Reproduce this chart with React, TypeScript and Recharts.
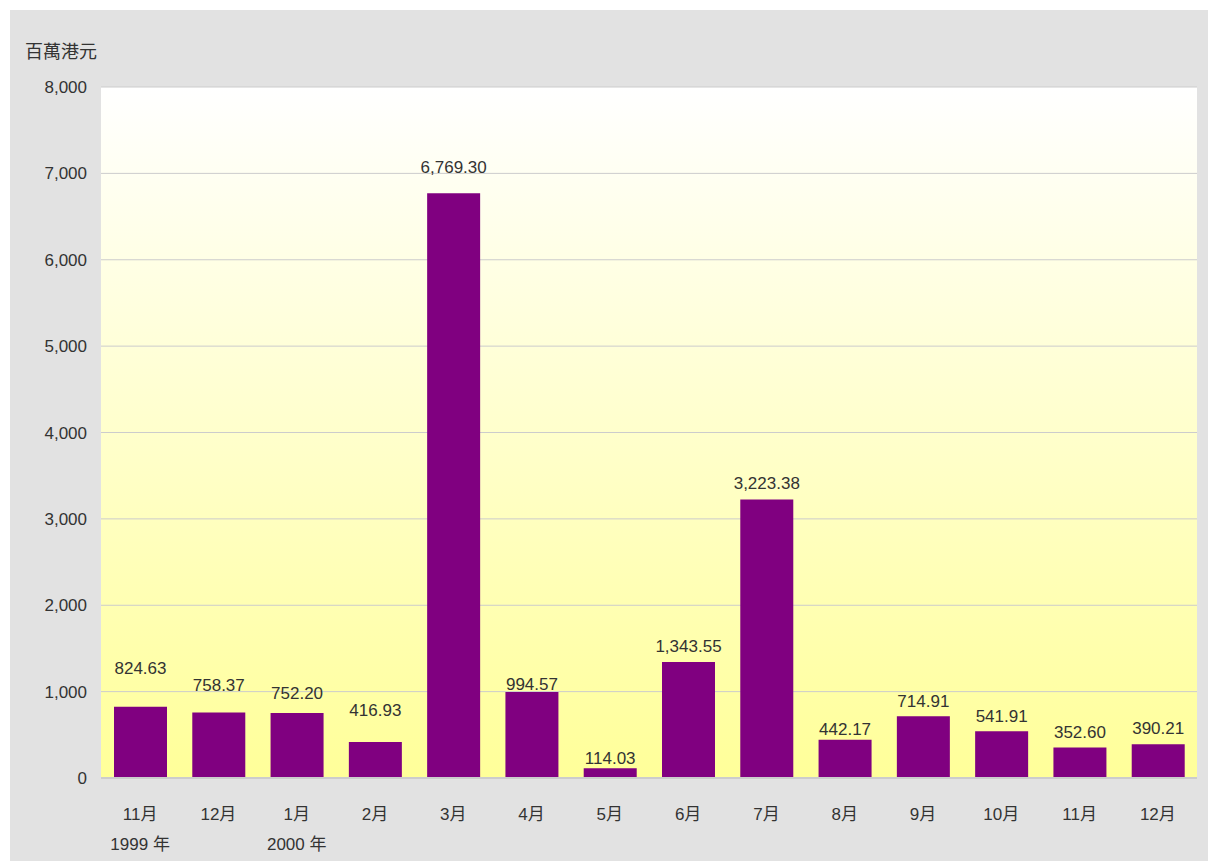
import React from "react";
import { BarChart, Bar, XAxis, YAxis, CartesianGrid, LabelList } from "recharts";

const months = ["11月", "12月", "1月", "2月", "3月", "4月", "5月", "6月", "7月", "8月", "9月", "10月", "11月", "12月"];
const years = ["1999 年", "", "2000 年", "", "", "", "", "", "", "", "", "", "", ""];
const values = [824.63, 758.37, 752.2, 416.93, 6769.3, 994.57, 114.03, 1343.55, 3223.38, 442.17, 714.91, 541.91, 352.6, 390.21];
const yTicks = [0, 1000, 2000, 3000, 4000, 5000, 6000, 7000, 8000];
const yUnit = "百萬港元";

// layout: gap (px) between each value label baseline and its bar top
const LABEL_GAPS = [33, 21, 14, 26, 20, 2, 4, 10, 11, 5, 9, 9, 10, 10];

const data = months.map((m, i) => ({ month: m, year: years[i], value: values[i], idx: i }));

const FONT = '"Liberation Sans", "Noto Sans CJK TC", sans-serif';
const fmt = (v: number) =>
  v.toLocaleString("en-US", { minimumFractionDigits: 2, maximumFractionDigits: 2 });

const XTick = (props: any) => {
  const { x, y, payload } = props;
  const i = payload.index;
  return (
    <g>
      <text x={x} y={y + 34} textAnchor="middle" fill="#333" fontSize={17} fontFamily={FONT}>
        {months[i]}
      </text>
      {years[i] ? (
        <text x={x} y={y + 64} textAnchor="middle" fill="#333" fontSize={17} fontFamily={FONT}>
          {years[i]}
        </text>
      ) : null}
    </g>
  );
};

const ValueLabel = (props: any) => {
  const { x, y, width, index } = props;
  return (
    <text
      x={x + width / 2}
      y={y - LABEL_GAPS[index]}
      textAnchor="middle"
      fill="#333"
      fontSize={17}
      fontFamily={FONT}
    >
      {fmt(values[index])}
    </text>
  );
};

export default function App() {
  return (
    <div style={{ position: "relative", marginLeft: 10, marginTop: 10, width: 1198, height: 851, background: "#e2e2e2", fontFamily: FONT }}>
      <style>{`html,body{margin:0;padding:0;overflow:hidden;}`}</style>
      <div style={{ position: "absolute", left: 15, top: 28, fontSize: 18, color: "#333", fontFamily: '"Noto Sans CJK TC", sans-serif', lineHeight: "24px" }}>
        {yUnit}
      </div>
      <BarChart width={1198} height={851} data={data} margin={{ top: 77, right: 11, left: 0, bottom: 0 }}>
        <defs>
          <linearGradient id="bgGrad" x1="0" y1="0" x2="0" y2="1">
            <stop offset="0%" stopColor="#ffffff" />
            <stop offset="100%" stopColor="#ffff99" />
          </linearGradient>
        </defs>
        <CartesianGrid vertical={false} stroke="#cccccc" fill="url(#bgGrad)" fillOpacity={1} />
        <XAxis
          dataKey="idx"
          height={83}
          tick={<XTick />}
          tickLine={false}
          axisLine={{ stroke: "#cccccc", strokeWidth: 2 }}
          interval={0}
        />
        <YAxis
          width={91}
          domain={[0, 8000]}
          ticks={yTicks}
          tickFormatter={(v: number) => v.toLocaleString("en-US")}
          tick={{ fill: "#333", fontSize: 17, fontFamily: FONT }}
          tickLine={false}
          tickSize={0}
          tickMargin={14}
          axisLine={false}
        />
        <Bar dataKey="value" fill="#800080" barSize={53} isAnimationActive={false}>
          <LabelList dataKey="value" content={<ValueLabel />} />
        </Bar>
      </BarChart>
    </div>
  );
}
